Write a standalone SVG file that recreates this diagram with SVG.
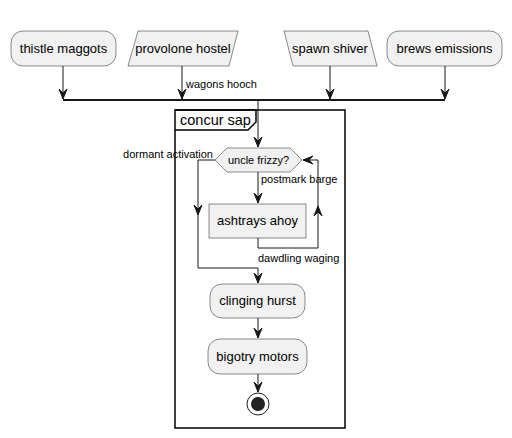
<svg xmlns="http://www.w3.org/2000/svg" width="512" height="438" viewBox="0 0 512 438">
<defs>
<style>
.n{fill:#F1F1F1;stroke:#181818;stroke-width:0.5}
.t{font-family:"Liberation Sans",Arial,sans-serif;font-size:13px;fill:#000}
.l{font-family:"Liberation Sans",Arial,sans-serif;font-size:11px;fill:#000}
.c{fill:none;stroke:#181818;stroke-width:1}
.h{fill:#181818;stroke:#181818;stroke-width:1}
</style>
</defs>
<rect width="512" height="438" fill="#FFFFFF"/>
<g id="frame">
<rect x="175" y="110" width="170" height="318" fill="none" stroke="#000" stroke-width="1.5"/>
<path d="M175,110 L256,110 L256,122 L248,130 L175,130" fill="none" stroke="#000" stroke-width="1.5"/>
<text x="180" y="125" font-family="Liberation Sans,Arial,sans-serif" font-size="14.5">concur sap</text>
</g>
<g id="thistle"><rect class="n" x="11" y="31" width="105" height="35" rx="12"/><text class="t" x="63.5" y="53" text-anchor="middle">thistle maggots</text></g>
<g id="provolone"><polygon class="n" points="138,31 238,31 229,66 128,66"/><text class="t" x="183" y="53" text-anchor="middle">provolone hostel</text></g>
<g id="spawn"><polygon class="n" points="284,31 368,31 377,66 293,66"/><text class="t" x="330" y="53" text-anchor="middle">spawn shiver</text></g>
<g id="brews"><rect class="n" x="387" y="31" width="115" height="35" rx="12"/><text class="t" x="444.5" y="53" text-anchor="middle">brews emissions</text></g>
<g id="uncle"><polygon class="n" points="215,160 227,148 290,148 302,160 290,172 227,172"/><text class="l" x="258.5" y="164" text-anchor="middle">uncle frizzy?</text></g>
<g id="ashtrays"><rect class="n" x="209" y="204" width="97" height="34"/><text class="t" x="257.5" y="225" text-anchor="middle">ashtrays ahoy</text></g>
<g id="clinging"><rect class="n" x="210" y="284" width="95" height="34" rx="12"/><text class="t" x="257.5" y="305" text-anchor="middle">clinging hurst</text></g>
<g id="bigotry"><rect class="n" x="208" y="339" width="99" height="35" rx="12"/><text class="t" x="257.5" y="361" text-anchor="middle">bigotry motors</text></g>
<g id="end"><circle cx="258" cy="404" r="11" fill="none" stroke="#222" stroke-width="1"/><circle cx="258" cy="404" r="7" fill="#222"/></g>
<g id="connectors">
<line x1="63" y1="100" x2="445" y2="100" stroke="#181818" stroke-width="2"/>
<path class="c" d="M63,66 V99"/><polygon class="h" points="59,89 63,99 67,89 63,93"/>
<path class="c" d="M182,66 V99"/><polygon class="h" points="178,89 182,99 186,89 182,93"/>
<text class="l" x="186" y="88">wagons hooch</text>
<path class="c" d="M330,66 V99"/><polygon class="h" points="326,89 330,99 334,89 330,93"/>
<path class="c" d="M445,66 V99"/><polygon class="h" points="441,89 445,99 449,89 445,93"/>
<path class="c" d="M258,101 V147"/><polygon class="h" points="254,137 258,147 262,137 258,141"/>
<text class="l" x="213" y="158" text-anchor="end">dormant activation</text>
<path class="c" d="M215,160 H198 V268 H258 V283"/><polygon class="h" points="194,205 198,215 202,205 198,209"/>
<polygon class="h" points="254,273 258,283 262,273 258,277"/>
<path class="c" d="M258,172 V203"/><polygon class="h" points="254,193 258,203 262,193 258,197"/>
<text class="l" x="261" y="183">postmark barge</text>
<path class="c" d="M258,238 V248 H318 V160 H303"/><polygon class="h" points="314,216 318,206 322,216 318,212"/>
<polygon class="h" points="313,156 303,160 313,164 309,160"/>
<text class="l" x="258" y="262">dawdling waging</text>
<path class="c" d="M258,318 V338"/><polygon class="h" points="254,328 258,338 262,328 258,332"/>
<path class="c" d="M258,374 V392"/><polygon class="h" points="254,382 258,392 262,382 258,386"/>
</g>
</svg>
